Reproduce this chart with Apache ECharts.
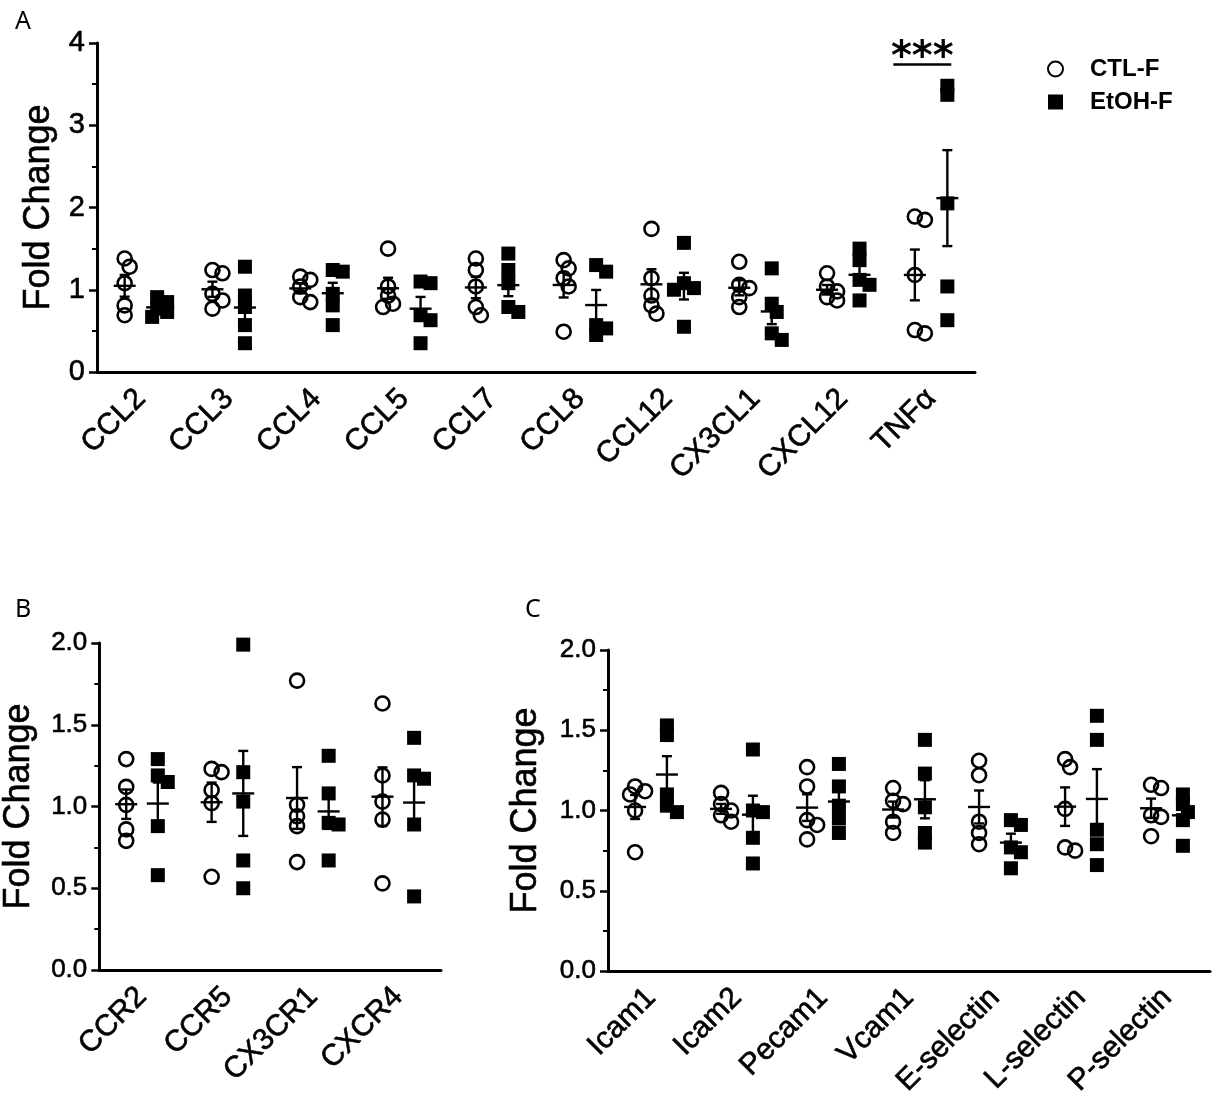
<!DOCTYPE html>
<html><head><meta charset="utf-8">
<script src="https://cdn.jsdelivr.net/npm/echarts@6/dist/echarts.min.js"></script>
<style>html,body{margin:0;padding:0;background:#fff}#c{width:1215px;height:1103px}</style>
</head><body><div id="c"></div>
<script>
// ---------- data ----------
const catsA = ['CCL2','CCL3','CCL4','CCL5','CCL7','CCL8','CCL12','CX3CL1','CXCL12','TNFα'];
const ctlA = [
  [1.38,1.28,1.08,0.81,0.69],
  [1.24,1.20,0.95,0.87,0.77],
  [1.16,1.12,1.04,0.91,0.85],
  [1.50,1.04,0.93,0.83,0.79],
  [1.38,1.24,1.04,0.79,0.69],
  [1.36,1.26,1.14,1.04,0.49],
  [1.74,1.14,0.93,0.81,0.71],
  [1.34,1.06,1.02,0.91,0.79],
  [1.20,1.04,0.98,0.91,0.87],
  [1.89,1.85,1.18,0.51,0.47]
];
const etohA = [
  [0.91,0.85,0.77,0.73,0.67],
  [1.28,0.93,0.79,0.57,0.35],
  [1.24,1.22,0.95,0.81,0.57],
  [1.10,1.08,0.69,0.63,0.35],
  [1.44,1.24,1.08,0.79,0.73],
  [1.30,1.22,0.57,0.53,0.45],
  [1.57,1.08,1.02,1.00,0.55],
  [1.26,0.83,0.73,0.47,0.39],
  [1.50,1.36,1.12,1.06,0.87],
  [3.48,3.37,2.05,1.04,0.63]
];
const catsB = ['CCR2','CCR5','CX3CR1','CXCR4'];
const ctlB = [
  [1.29,1.12,1.01,0.86,0.79],
  [1.23,1.21,1.10,1.02,0.57],
  [1.77,1.01,0.94,0.88,0.66],
  [1.63,1.19,1.03,0.92,0.53]
];
const etohB = [
  [1.29,1.19,1.15,0.88,0.58],
  [1.99,1.21,1.03,0.67,0.50],
  [1.31,1.08,0.90,0.89,0.67],
  [1.42,1.19,1.17,0.89,0.45]
];
const catsC = ['Icam1','Icam2','Pecam1','Vcam1','E-selectin','L-selectin','P-selectin'];
const ctlC = [
  [1.15,1.12,1.10,1.00,0.74],
  [1.11,1.04,1.00,0.97,0.93],
  [1.27,1.15,0.94,0.91,0.82],
  [1.14,1.06,1.04,0.93,0.86],
  [1.31,1.22,0.93,0.86,0.79],
  [1.32,1.27,1.01,0.77,0.75],
  [1.16,1.14,0.97,0.96,0.84]
];
const etohC = [
  [1.53,1.47,1.10,1.03,0.99],
  [1.38,1.00,0.99,0.83,0.67],
  [1.29,1.15,1.03,0.95,0.86],
  [1.44,1.23,1.02,0.86,0.80],
  [0.94,0.91,0.77,0.74,0.64],
  [1.59,1.44,0.88,0.79,0.66],
  [1.10,1.04,0.99,0.94,0.78]
];
const yMaxA = 4, yStepA = 1;
const yMaxBC = 2, yStepBC = 0.5;
const groupNames = ['CTL-F','EtOH-F'];
const sigLabel = '***';

// ---------- layout ----------
const FONT = '"Liberation Sans", Arial, sans-serif';
const panels = [
  {cats: catsA, ctl: ctlA, etoh: etohA, left: 97, top: 43, width: 878, height: 329, yMax: yMaxA, step: yStepA, fmt: v => String(v), tickFs: 29, nameGap: 40},
  {cats: catsB, ctl: ctlB, etoh: etohB, left: 97, top: 643, width: 344, height: 327, yMax: yMaxBC, step: yStepBC, fmt: v => v.toFixed(1), tickFs: 26, nameGap: 62},
  {cats: catsC, ctl: ctlC, etoh: etohC, left: 608, top: 650, width: 602, height: 321, yMax: yMaxBC, step: yStepBC, fmt: v => v.toFixed(1), tickFs: 26, nameGap: 64}
];
const COL_OFF = 0.185;
const MARK = 14;
const THICK = {textBorderColor: '#000', textBorderWidth: 0.6};

function swarm(vals, pxPerY, pxPerX) {
  // deterministic beeswarm: spread overlapping points horizontally
  const idx = vals.map((v, i) => i).sort((a, b) => vals[b] - vals[a]);
  const placed = [];
  const out = new Array(vals.length).fill(0);
  const stepPx = 5, minD = 9;
  idx.forEach(i => {
    const cand = [0, 1, -1, 2, -2];
    for (const k of cand) {
      const dx = k * stepPx;
      const ok = placed.every(p => {
        const ddx = dx - p.dx, ddy = (vals[i] - p.v) * pxPerY;
        return Math.sqrt(ddx * ddx + ddy * ddy) >= minD;
      });
      if (ok || k === -2) { placed.push({dx, v: vals[i]}); out[i] = dx / pxPerX; break; }
    }
  });
  return out;
}
function stats(a) {
  const n = a.length, m = a.reduce((s, v) => s + v, 0) / n;
  const sd = Math.sqrt(a.reduce((s, v) => s + (v - m) * (v - m), 0) / (n - 1));
  return [m, sd / Math.sqrt(n)];
}
function errRender(params, api) {
  const x = api.value(0), m = api.value(1), s = api.value(2);
  const c = api.coord([x, m]), hi = api.coord([x, m + s]), lo = api.coord([x, m - s]);
  const half = 11, cap = 5, st = {stroke: '#000', lineWidth: 2.4};
  return {type: 'group', children: [
    {type: 'line', shape: {x1: c[0] - half, y1: c[1], x2: c[0] + half, y2: c[1]}, style: st},
    {type: 'line', shape: {x1: c[0], y1: hi[1], x2: c[0], y2: lo[1]}, style: st},
    {type: 'line', shape: {x1: c[0] - cap, y1: hi[1], x2: c[0] + cap, y2: hi[1]}, style: st},
    {type: 'line', shape: {x1: c[0] - cap, y1: lo[1], x2: c[0] + cap, y2: lo[1]}, style: st}
  ]};
}

const grid = [], xAxis = [], yAxis = [], series = [];
panels.forEach((p, g) => {
  const n = p.cats.length;
  grid.push({left: p.left, top: p.top, width: p.width, height: p.height, containLabel: false});
  xAxis.push({
    type: 'category', gridIndex: g, data: p.cats, boundaryGap: true,
    axisLine: {onZero: false, lineStyle: {color: '#000', width: 3}},
    axisTick: {alignWithLabel: true, length: 7, lineStyle: {color: '#000', width: 2.5}},
    axisLabel: Object.assign({rotate: 45, margin: 22, fontSize: 30, color: '#000', fontFamily: FONT, interval: 0}, THICK),
    splitLine: {show: false}
  });
  xAxis.push({type: 'value', gridIndex: g, min: -0.5, max: n - 0.5, show: false});
  yAxis.push({
    type: 'value', gridIndex: g, min: 0, max: p.yMax, interval: p.step,
    name: 'Fold Change', nameLocation: 'middle', nameRotate: 90, nameGap: p.nameGap,
    nameTextStyle: Object.assign({fontSize: 36, color: '#000', fontFamily: FONT}, THICK),
    axisLine: {show: true, onZero: false, lineStyle: {color: '#000', width: 3}},
    axisTick: {show: true, length: 8, lineStyle: {color: '#000', width: 2.5}},
    minorTick: {show: true, splitNumber: 2, length: 5, lineStyle: {color: '#000', width: 2}},
    axisLabel: Object.assign({fontSize: p.tickFs, color: '#000', fontFamily: FONT, margin: 12, formatter: p.fmt}, THICK),
    splitLine: {show: false}, minorSplitLine: {show: false}
  });
  const pxPerY = p.height / p.yMax, pxPerX = p.width / n;
  [p.ctl, p.etoh].forEach((grp, k) => {
    const off = k === 0 ? -COL_OFF : COL_OFF;
    const pts = [], errs = [];
    grp.forEach((vals, i) => {
      const jit = swarm(vals, pxPerY, pxPerX);
      vals.forEach((v, j) => pts.push([i + off + jit[j], v]));
      const [m, se] = stats(vals);
      errs.push([i + off, m, se]);
    });
    series.push({
      type: 'scatter', name: groupNames[k], xAxisIndex: 2 * g + 1, yAxisIndex: g,
      data: pts, symbol: k === 0 ? 'circle' : 'rect', symbolSize: MARK,
      itemStyle: k === 0 ? {color: 'rgba(255,255,255,0)', borderColor: '#000', borderWidth: 2.6, opacity: 1}
                         : {color: '#000', borderColor: '#000', borderWidth: 0, opacity: 1},
      emphasis: {disabled: true}, z: 2
    });
    series.push({
      type: 'custom', name: groupNames[k] + ' mean', xAxisIndex: 2 * g + 1, yAxisIndex: g,
      data: errs, renderItem: errRender, z: 3, silent: true
    });
  });
});

const chart = echarts.init(document.getElementById('c'), null, {renderer: 'canvas'});
chart.setOption({
  animation: false,
  backgroundColor: '#fff',
  title: [
    {text: 'A', left: 10, top: 4, textStyle: {fontSize: 25, fontWeight: 'normal', color: '#000', fontFamily: '"Noto Sans", sans-serif'}},
    {text: 'B', left: 10, top: 592, textStyle: {fontSize: 25, fontWeight: 'normal', color: '#000', fontFamily: '"Noto Sans", sans-serif'}},
    {text: 'C', left: 520, top: 592, textStyle: {fontSize: 25, fontWeight: 'normal', color: '#000', fontFamily: '"Noto Sans", sans-serif'}}
  ],
  legend: {
    data: groupNames, orient: 'vertical', left: 1042, top: 51, itemGap: 7,
    itemWidth: 15, itemHeight: 15,
    textStyle: {fontSize: 24, fontWeight: 'bold', color: '#000', fontFamily: FONT, padding: [0, 0, 0, 22], lineHeight: 26}
  },
  grid, xAxis, yAxis, series
});

// significance bar for TNFα
const iT = catsA.length - 1;
const pL = chart.convertToPixel({xAxisIndex: 1, yAxisIndex: 0}, [iT - 0.43, 3.74]);
const pR = chart.convertToPixel({xAxisIndex: 1, yAxisIndex: 0}, [iT + 0.23, 3.74]);
chart.setOption({
  graphic: [
    {type: 'line', shape: {x1: pL[0], y1: pL[1], x2: pR[0], y2: pR[1]}, style: {stroke: '#000', lineWidth: 2.5}},
    {type: 'text', x: (pL[0] + pR[0]) / 2, y: pL[1] + 14, style: {text: sigLabel, fontSize: 40, fontWeight: 'bold', fontFamily: '"DejaVu Sans", sans-serif', fill: '#000', align: 'center', verticalAlign: 'bottom'}}
  ]
});
</script></body></html>
